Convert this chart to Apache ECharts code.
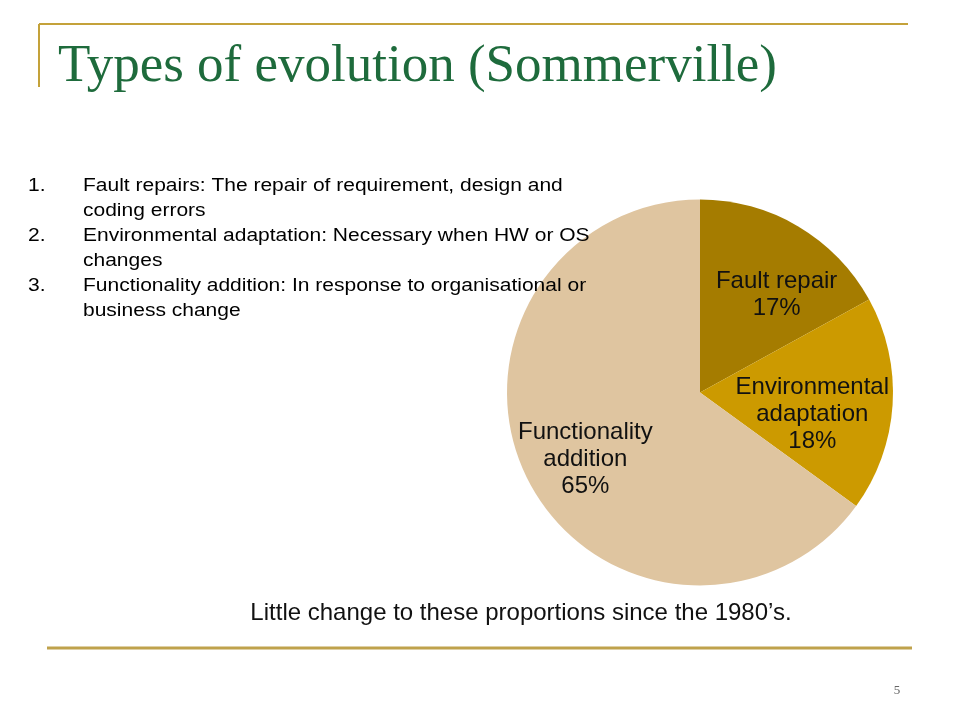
<!DOCTYPE html>
<html>
<head>
<meta charset="utf-8">
<style>
  html, body { margin: 0; padding: 0; background: #ffffff; }
  #chart { width: 960px; height: 720px; }
</style>
<script src="https://cdn.jsdelivr.net/npm/echarts@6/dist/echarts.min.js"></script>
</head>
<body>
<div id="chart"></div>
<script>
// ---- data ----
const titleText = 'Types of evolution (Sommerville)';
const categories = ['Fault repair', 'Environmental\nadaptation', 'Functionality\naddition'];
const values = [17, 18, 65];
const listNumbers = ['1.', '', '2.', '', '3.', ''];
const listLines = [
  'Fault repairs: The repair of requirement, design and',
  'coding errors',
  'Environmental adaptation: Necessary when HW or OS',
  'changes',
  'Functionality addition: In response to organisational or',
  'business change'
];
const captionText = 'Little change to these proportions since the 1980\u2019s.';
const pageNumber = '5';

// ---- styles ----
const sliceColors = ['#A57C00', '#CC9A00', '#DFC5A0'];
const labelShift = [[26, -12], [13, 15.5], [-26, 22]];
const goldLine = '#C4A23A';
const sans = '"Liberation Sans", Arial, sans-serif';
const serif = '"Liberation Serif", "Times New Roman", serif';

const chart = echarts.init(document.getElementById('chart'), null, { renderer: 'canvas' });

const graphics = [
  { type: 'line', shape: { x1: 39, y1: 24, x2: 908, y2: 24 }, style: { stroke: goldLine, lineWidth: 2 } },
  { type: 'line', shape: { x1: 39, y1: 24, x2: 39, y2: 87 }, style: { stroke: goldLine, lineWidth: 2 } },
  { type: 'line', shape: { x1: 47, y1: 648, x2: 912, y2: 648 }, style: { stroke: '#BFA24C', lineWidth: 3 } },
  { type: 'text', x: 58, y: 67, style: { text: titleText, font: '53px ' + serif, fill: '#1E6B3C', verticalAlign: 'middle', align: 'left' } },
  { type: 'text', x: 521, y: 613.5, style: { text: captionText, font: '24px ' + sans, fill: '#111111', verticalAlign: 'middle', align: 'center' } },
  { type: 'text', x: 897, y: 691, style: { text: pageNumber, font: '13px ' + serif, fill: '#666666', verticalAlign: 'middle', align: 'center' } }
];
listLines.forEach(function (line, i) {
  const y = 186.5 + 25 * i;
  if (listNumbers[i]) {
    graphics.push({ type: 'text', x: 28, y: y, scaleX: 1.2, style: { text: listNumbers[i], font: '17.5px ' + sans, fill: '#000000', verticalAlign: 'middle', align: 'left' } });
  }
  graphics.push({ type: 'text', x: 83, y: y, scaleX: 1.2, style: { text: line, font: '17.5px ' + sans, fill: '#000000', verticalAlign: 'middle', align: 'left' } });
});
graphics.forEach(function (g) { g.z = 100; });

const option = {
  backgroundColor: '#ffffff',
  animation: false,
  series: [{
    type: 'pie',
    center: [700, 392.5],
    radius: [0, 193],
    startAngle: 90,
    clockwise: true,
    silent: true,
    z: 2,
    data: categories.map(function (c, i) {
      return { name: c, value: values[i], itemStyle: { color: sliceColors[i] } };
    }),
    label: {
      show: true,
      position: 'inside',
      formatter: function (p) { return p.name + '\n' + p.value + '%'; },
      fontFamily: sans,
      fontSize: 24,
      lineHeight: 27,
      color: '#111111',
      textBorderWidth: 0
    },
    labelLine: { show: false },
    labelLayout: function (params) {
      const s = labelShift[params.dataIndex];
      return { dx: s[0], dy: s[1] };
    },
    itemStyle: { borderWidth: 0 }
  }],
  graphic: graphics
};
chart.setOption(option);
</script>
</body>
</html>
